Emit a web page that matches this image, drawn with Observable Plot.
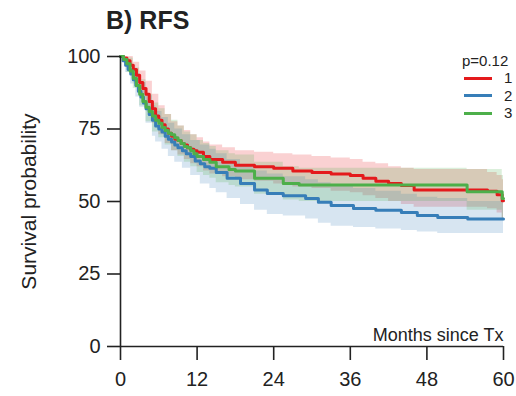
<!DOCTYPE html>
<html><head><meta charset="utf-8">
<script src="https://cdn.jsdelivr.net/npm/d3@7"></script>
<script src="https://cdn.jsdelivr.net/npm/@observablehq/plot@0.6"></script>
<style>
body{margin:0;background:#fff;}
#wrap{position:relative;width:516px;height:396px;font-family:"Liberation Sans",Arial,sans-serif;color:#222;}
#title{position:absolute;left:106px;top:5px;font-size:25px;font-weight:bold;line-height:30px;}
#legend{position:absolute;left:0;top:0;}
.lt{position:absolute;font-size:15px;line-height:18px;}
.ll{position:absolute;height:3px;width:28px;}
</style>
</head><body>
<div id="wrap"><div id="title"></div><div id="legend"></div></div>
<script>
const title = "B) RFS";
const yLabel = "Survival probability";
const xLabel = "Months since Tx";
const legendTitle = "p=0.12";
const groups = ["1", "2", "3"];
const colors = ["#E41A1C", "#377EB8", "#4DAF4A"];
const xTicks = [0, 12, 24, 36, 48, 60];
const yTicks = [0, 25, 50, 75, 100];

// group 1 (red): survival curve
const t1 = [0,0.5,1,1.5,2,2.5,3,3.5,4,4.5,5,5.5,6,6.5,7,7.5,8,8.5,9,9.5,10,10.5,11,11.5,12,13,14,16,18,21,24,27,30,33,36,38,40,42,44,46,57.5,59,59.8,60];
const s1 = [100,99.5,98.5,97,95.5,93.5,91,89,87,84.5,82,79.5,78,76.5,75,73.5,72.5,71.5,71,70,69.5,68.5,68,67.5,67,65.5,64.5,63.5,62.5,62,61.5,60.5,60,59.5,59,58,57,56.2,55.5,54,53.5,52.3,50.3,50.3];
// group 1: confidence band
const bt1 = [0,1,2,3,4,5,6,7,8,9,10,11,12,13,14,16,18,21,24,27,30,33,36,38,40,42,44,46,57.5,59,59.8,60];
const lo1 = [100,96,92,87,82,77,73,70,67.5,66,64.5,63,62,60.5,59.5,58.5,57.5,57,56,55,54.5,53.5,53,52,51,50,49,48,47.5,46,44,44];
const hi1 = [100,100,98,95,91.5,87,83,80,77.5,76,74.5,73,72,70.5,69.5,68.5,67.5,67,66.5,66,65.5,65,64.5,63.5,63,62,61.5,61,60,59,57.5,57.5];

// group 2 (blue): survival curve
const t2 = [0,0.4,0.8,1.2,1.6,2,2.4,2.8,3.2,3.6,4,4.5,5,5.5,6,6.5,7,7.5,8,8.5,9,9.7,10.3,11,11.7,12.5,13.2,14,15,16.7,18.8,21,23,25.5,29,31,33,36.5,40,44,46.5,49.7,54.4,60];
const s2 = [100,98.5,97,95.5,94,92,90,88,86,84,82,80,78,76,75,74,72.5,71.5,70.5,69.5,68.5,67.5,66.5,65.5,64,63,62,61.5,60,58,56.2,54,52.8,52,51,49.7,48.6,47.6,47,46.2,45.2,44.5,44,44];
// group 2: confidence band
const bt2 = [0,0.8,1.6,2.4,3,4,5,5.5,6.5,7.5,8.5,9.7,11,12.5,14,15,16.7,18.8,21,23,25.5,29,31,33,36.5,40,44,46.5,49.7,54.4,60];
const lo2 = [100,94.5,90.5,86,82.5,77,72.5,70.5,68,65.5,63.5,61.5,59,56,54.5,53,51,49,47,45.5,45,44,42.5,41.5,41,40.5,40,39.5,39,39,39];
const hi2 = [100,99,97,94,91,86.5,83,81,79,77,75,73,71,69.5,68,66.5,64.5,62.5,60.5,59.5,58.5,57.5,56.5,55.5,54.5,53.5,52.5,51.5,51,50,50];

// group 3 (green): survival curve
const t3 = [0,0.5,1,1.5,2,2.5,3,3.5,4,4.5,5,5.5,6,6.5,7,7.5,8,8.5,9,9.5,10,10.5,11,11.5,12,13,14,15,17,18,21,25.5,28,54.3,59.8,60];
const s3 = [100,99,97.5,95,92.5,90,87,84.5,82.5,81,79.5,78,77,75.5,74.5,73.5,73,72,71,70,69,68.5,67.5,66.5,65.5,64.5,63.5,62,61,60.5,58,56.2,55.7,53.4,51,51];
// group 3: confidence band
const bt3 = [0,1,2,3,4,5,6,7,8,9,10,11,12,13,14,15,17,18,21,25.5,28,54.3,59.8,60];
const lo3 = [100,94.5,89,83,77.5,74,72,69.5,67.5,65.5,63.5,62,60,59,58,56.5,55.5,55,52.5,50.5,50,47,44,44];
const hi3 = [100,99.5,96,92,87,84,82,80,78,76,74,73,71,70,69,67.5,66.5,66,63.5,62,61.5,61,59,59];

const curves = [[t1,s1],[t2,s2],[t3,s3]].map(([t,s], g) => t.map((d, i) => ({t: d, s: s[i], g: groups[g]})));
const bands = [[bt1,lo1,hi1],[bt2,lo2,hi2],[bt3,lo3,hi3]].map(([t,lo,hi], g) => t.map((d, i) => ({t: d, lo: lo[i], hi: hi[i], g: groups[g]})));

const bandMarks = bands.map((d, g) => Plot.areaY(d, {x: "t", y1: "lo", y2: "hi", curve: "step-after", fill: colors[g], fillOpacity: 0.2}));
const lineMarks = curves.map((d, g) => Plot.lineY(d, {x: "t", y: "s", curve: "step-after", stroke: colors[g], strokeWidth: 3}));

const chart = Plot.plot({
  width: 516, height: 396,
  marginLeft: 120, marginRight: 13, marginTop: 56, marginBottom: 50,
  style: {fontFamily: "'Liberation Sans', Arial, sans-serif", color: "#222", background: "#fff"},
  x: {domain: [0, 60]},
  y: {domain: [0, 100]},
  marks: [
    ...bandMarks,
    ...lineMarks,
    Plot.ruleX([0], {stroke: "#222", strokeWidth: 1.6}),
    Plot.ruleY([0], {stroke: "#222", strokeWidth: 1.6}),
    Plot.axisY({ticks: yTicks, tickSize: 13, tickPadding: 7, fontSize: 20, label: null, stroke: "#222", strokeWidth: 1.6, fill: "#222"}),
    Plot.axisX({ticks: xTicks, tickSize: 14, tickPadding: 11, fontSize: 20, label: null, stroke: "#222", strokeWidth: 1.6, fill: "#222"}),
    Plot.text([yLabel], {frameAnchor: "left", dx: -91, rotate: -90, textAnchor: "middle", fontSize: 21, fill: "#222", text: d => d}),
    Plot.text([xLabel], {frameAnchor: "bottom-right", dy: -11, lineAnchor: "middle", textAnchor: "end", fontSize: 18, fill: "#222", text: d => d})
  ]
});
const wrap = document.getElementById("wrap");
wrap.insertBefore(chart, wrap.firstChild);
document.getElementById("title").textContent = title;

const leg = document.getElementById("legend");
const lt = document.createElement("div");
lt.className = "lt"; lt.style.left = "462px"; lt.style.top = "52px"; lt.textContent = legendTitle;
leg.appendChild(lt);
groups.forEach((g, i) => {
  const y = 78 + i * 17.5;
  const l = document.createElement("div");
  l.className = "ll"; l.style.left = "464px"; l.style.top = (y - 1.5) + "px"; l.style.background = colors[i];
  leg.appendChild(l);
  const t = document.createElement("div");
  t.className = "lt"; t.style.left = "504px"; t.style.top = (y - 9) + "px"; t.textContent = g;
  leg.appendChild(t);
});
</script>
</body></html>
